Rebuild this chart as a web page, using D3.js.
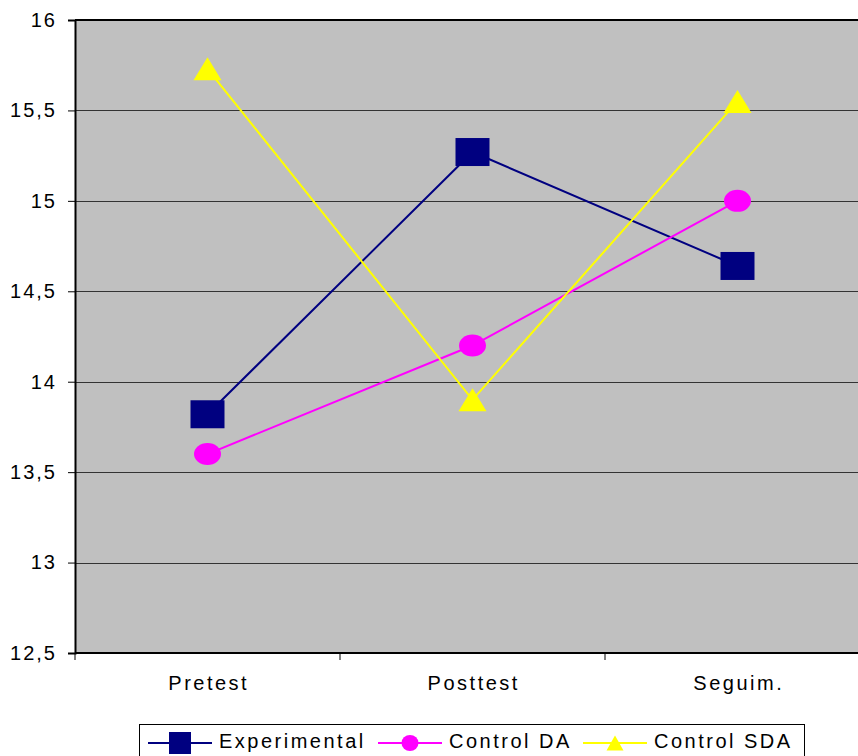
<!DOCTYPE html>
<html><head><meta charset="utf-8">
<script src="https://cdn.jsdelivr.net/npm/d3@7"></script>
<style>html,body{margin:0;padding:0;background:#fff;overflow:hidden}svg{display:block;font-family:"Liberation Sans",Arial,sans-serif}</style>
</head><body><svg id="c" width="858" height="756"></svg>
<script>
const categories = ["Pretest", "Posttest", "Seguim."];
const experimental = [13.82, 15.27, 14.64];
const controlDA = [13.6, 14.2, 15.0];
const controlSDA = [15.73, 13.9, 15.55];
const yTicks = [12.5, 13, 13.5, 14, 14.5, 15, 15.5, 16];
const seriesNames = ["Experimental", "Control DA", "Control SDA"];

const series = [
  {name: seriesNames[0], values: experimental, color: "#000080", marker: "square"},
  {name: seriesNames[1], values: controlDA, color: "#FF00FF", marker: "circle"},
  {name: seriesNames[2], values: controlSDA, color: "#FFFF00", marker: "triangle"}
];

const svg = d3.select("#c");
const L = 75, R = 870, T = 20, B = 653;
const x = d3.scaleBand().domain(categories).range([L, R]);
const y = d3.scaleLinear().domain([12.5, 16]).range([B, T]);
const fmt = d3.formatLocale({decimal: ",", thousands: ".", grouping: [3], currency: ["", ""]}).format("~g");

svg.append("rect").attr("x", L).attr("y", T).attr("width", R - L).attr("height", B - T).attr("fill", "#C0C0C0");

// gridlines
svg.append("g").selectAll("line").data(yTicks.filter(d => d > 12.5 && d < 16)).join("line")
  .attr("x1", L).attr("x2", R).attr("y1", d => Math.round(y(d)) + 0.5).attr("y2", d => Math.round(y(d)) + 0.5)
  .attr("stroke", "#333").attr("stroke-width", 1);

// top border
svg.append("line").attr("x1", L).attr("x2", R).attr("y1", T).attr("y2", T).attr("stroke", "#000").attr("stroke-width", 2);

// y axis
const yAxis = d3.axisLeft(y).tickValues(yTicks).tickFormat(fmt).tickSize(7).tickPadding(11);
const gy = svg.append("g").attr("transform", `translate(${L},0)`).call(yAxis);
gy.select(".domain").attr("stroke", "#000").attr("stroke-width", 2);
gy.selectAll(".tick line").attr("stroke", "#000");
gy.selectAll("text").attr("font-size", 20).attr("letter-spacing", 2).attr("fill", "#000").attr("font-family", '"Liberation Sans",Arial,sans-serif');

// x axis
const gx = svg.append("g").attr("transform", `translate(0,${B})`);
gx.append("line").attr("x1", L).attr("x2", R).attr("stroke", "#000").attr("stroke-width", 2);
const bounds = categories.map(c => x(c)).concat([R]);
gx.selectAll(".tk").data(bounds).join("line").attr("class", "tk")
  .attr("x1", d => d).attr("x2", d => d).attr("y1", 0).attr("y2", 7).attr("stroke", "#000");
gx.selectAll(".lb").data(categories).join("text").attr("class", "lb")
  .attr("x", d => x(d) + x.bandwidth() / 2 + 1.25).attr("y", 37).attr("text-anchor", "middle")
  .attr("font-size", 20).attr("letter-spacing", 2.5).attr("fill", "#000").text(d => d);

const cx = c => x(c) + x.bandwidth() / 2;

function drawMarker(g, type, px, py, color, big) {
  if (type === "square") {
    const w = big ? 34 : 22, h = big ? 28 : 22;
    g.append("rect").attr("x", px - w / 2).attr("y", py - h / 2).attr("width", w).attr("height", h).attr("fill", color);
  } else if (type === "circle") {
    g.append("ellipse").attr("cx", px).attr("cy", py).attr("rx", big ? 13.5 : 8.5).attr("ry", big ? 11 : 8).attr("fill", color);
  } else {
    const w = big ? 28 : 17, h = big ? 23 : 15;
    g.append("path").attr("d", `M${px},${py - h / 2}L${px + w / 2},${py + h / 2}L${px - w / 2},${py + h / 2}Z`).attr("fill", color);
  }
}

const line = d3.line().x((d, i) => cx(categories[i])).y(d => y(d));
series.forEach(s => {
  svg.append("path").datum(s.values).attr("d", line).attr("fill", "none").attr("stroke", s.color).attr("stroke-width", 2);
});
series.forEach(s => {
  const g = svg.append("g");
  s.values.forEach((v, i) => drawMarker(g, s.marker, cx(categories[i]), y(v), s.color, true));
});

// legend
const lg = svg.append("g");
lg.append("rect").attr("x", 139.5).attr("y", 724.5).attr("width", 665).attr("height", 40).attr("fill", "#fff").attr("stroke", "#000");
const legX = [148, 378, 583];
const ly = 743;
series.forEach((s, i) => {
  const x0 = legX[i];
  lg.append("line").attr("x1", x0).attr("x2", x0 + 64).attr("y1", ly).attr("y2", ly).attr("stroke", s.color).attr("stroke-width", 2);
  drawMarker(lg, s.marker, x0 + 32, ly, s.color, false);
  lg.append("text").attr("x", x0 + 71).attr("y", ly + 5).attr("font-size", 20).attr("letter-spacing", 2.5).attr("fill", "#000").text(s.name);
});
</script></body></html>
